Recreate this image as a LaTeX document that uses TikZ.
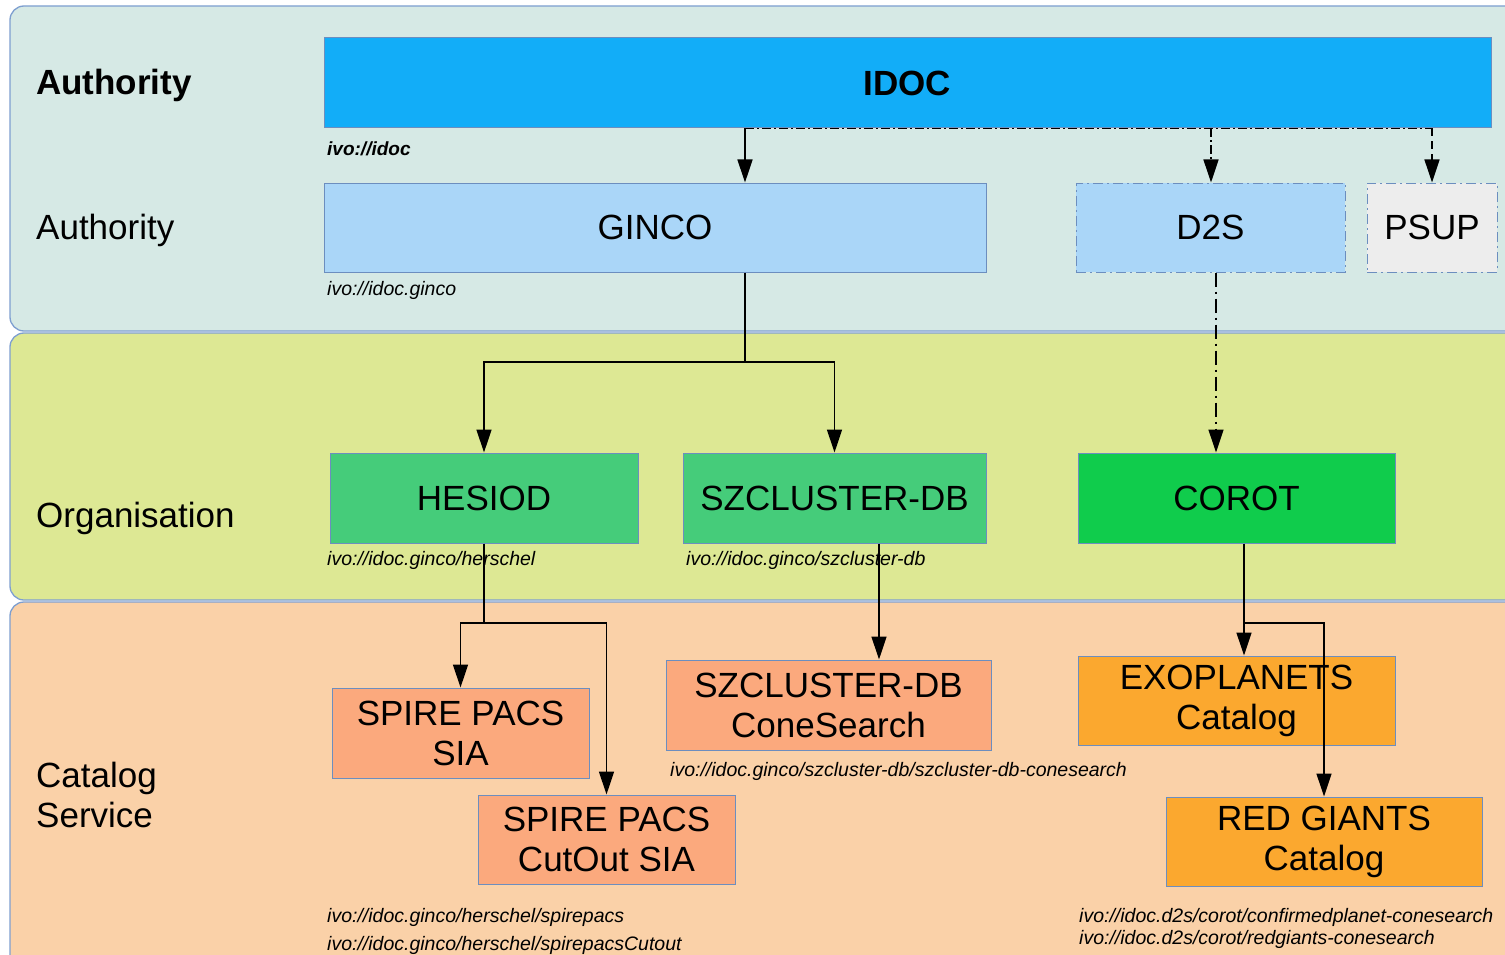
\documentclass[tikz,border=0pt]{standalone}
\usepackage{fontspec}
\setmainfont{Liberation Sans}
\usetikzlibrary{arrows.meta}
\definecolor{bandA}{HTML}{D6E9E5}
\definecolor{bandB}{HTML}{DDE894}
\definecolor{bandC}{HTML}{FAD1A8}
\definecolor{bandline}{HTML}{7E9FD0}
\definecolor{boxline}{HTML}{6C8EBF}
\definecolor{idocc}{HTML}{12ADF8}
\definecolor{ltblue}{HTML}{AAD6F8}
\definecolor{ltgray}{HTML}{EDEDED}
\definecolor{midgreen}{HTML}{45CC7A}
\definecolor{brgreen}{HTML}{10CC4C}
\definecolor{salmon}{HTML}{FBA97D}
\definecolor{orangec}{HTML}{FBA82F}
\begin{document}
\begin{tikzpicture}[x=1pt,y=-1pt,
  band/.style={draw=bandline, line width=1.3pt, rounded corners=14pt},
  box/.style={draw=boxline, line width=1pt, inner sep=0pt, align=center,
    font=\fontsize{35}{40}\selectfont, minimum height=89pt},
  dashbox/.style={box, dash pattern=on 10pt off 4pt on 2pt off 4pt},
  lbl/.style={anchor=west, inner sep=0pt, font=\fontsize{35}{40}\selectfont, align=left},
  ivo/.style={anchor=west, inner sep=0pt, font=\fontsize{19.5}{22}\selectfont\itshape},
  conn/.style={line width=1.4pt, black},
  arr/.style={conn, -{Triangle[width=15pt,length=23pt]}},
  dashdot/.style={dash pattern=on 9pt off 3pt on 2pt off 3pt},
  longdd/.style={dash pattern=on 14pt off 5pt on 2pt off 5pt},
  dsh/.style={dash pattern=on 8pt off 5pt}
]
\clip (0,0) rectangle (1505,955);
\useasboundingbox (0,0) rectangle (1505,955);
\fill[white] (0,0) rectangle (1505,955);
% bands
\draw[band, fill=bandA] (10,6) rectangle (1540,331);
\draw[band, fill=bandB] (10,333) rectangle (1540,600);
\draw[band, fill=bandC] (10,602) rectangle (1540,990);
% left labels
\node[lbl, font=\fontsize{35}{40}\selectfont\bfseries] (l1) at (36,85) {Authority};
\node[lbl] (l2) at (36,230) {Authority};
\node[lbl] (l3) at (36,518) {Organisation};
\node[lbl] (l4) at (36,795) {Catalog\\Service};
% boxes
\node[box, fill=idocc, minimum width=1167pt, minimum height=90pt, font=\fontsize{35}{40}\selectfont\bfseries] (idoc) at (907.5,83) {IDOC};
\node[box, fill=ltblue, minimum width=662pt] (ginco) at (655,227.5) {GINCO};
\node[dashbox, fill=ltblue, minimum width=269pt] (d2s) at (1210.5,227.5) {D2S};
\node[dashbox, fill=ltgray, minimum width=130pt] (psup) at (1432,227.5) {PSUP};
\node[box, fill=midgreen, minimum width=308pt, minimum height=90pt] (hesiod) at (484,498) {HESIOD};
\node[box, fill=midgreen, minimum width=303pt, minimum height=90pt] (szcl) at (834.5,498) {SZCLUSTER-DB};
\node[box, fill=brgreen, minimum width=317pt, minimum height=90pt] (corot) at (1236.5,498) {COROT};
\node[box, fill=salmon, minimum width=257pt, minimum height=90pt] (sia) at (460.5,733) {SPIRE PACS\\SIA};
\node[box, fill=salmon, minimum width=257pt] (cutout) at (606.5,839.5) {SPIRE PACS\\CutOut SIA};
\node[box, fill=salmon, minimum width=325pt, minimum height=90pt] (cone) at (828.5,705) {SZCLUSTER-DB\\ConeSearch};
\node[box, fill=orangec, minimum width=317pt] (exo) at (1236.5,700.5) {EXOPLANETS\\Catalog};
\node[box, fill=orangec, minimum width=316pt] (red) at (1324,841.5) {RED GIANTS\\Catalog};
% ivo labels
\node[ivo, font=\fontsize{19}{22}\selectfont\bfseries\itshape] (v1) at (327,149) {ivo://idoc};
\node[ivo] (v2) at (327,290) {ivo://idoc.ginco};
\node[ivo] (v3) at (327,560) {ivo://idoc.ginco/herschel};
\node[ivo] (v4) at (686,560) {ivo://idoc.ginco/szcluster-db};
\node[ivo] (v5) at (670,771) {ivo://idoc.ginco/szcluster-db/szcluster-db-conesearch};
\node[ivo] (v6) at (327,917) {ivo://idoc.ginco/herschel/spirepacs};
\node[ivo] (v7) at (327,945) {ivo://idoc.ginco/herschel/spirepacsCutout};
\node[ivo] (v8) at (1079,917) {ivo://idoc.d2s/corot/confirmedplanet-conesearch};
\node[ivo] (v9) at (1079,939) {ivo://idoc.d2s/corot/redgiants-conesearch};
% connectors
\draw[arr] (idoc.south -| 745,0) -- (ginco.north -| 745,0);
\draw[conn, dashdot] (idoc.south -| 745,0) -- (idoc.south -| psup.north);
\draw[arr, dashdot] (idoc.south -| 1211,0) -- (d2s.north -| 1211,0);
\draw[arr, dsh] (idoc.south -| psup.north) -- (psup.north);
\coordinate (gj) at (745,362);
\draw[conn] (ginco.south -| gj) -- (gj);
\draw[arr] (gj) -| (hesiod.north);
\draw[arr] (gj) -| (szcl.north);
\draw[arr, longdd] (d2s.south -| 1216,0) -- (corot.north -| 1216,0);
\coordinate (hj) at (484,623);
\draw[conn] (hesiod.south) -- (hj);
\draw[arr] (hj) -| (sia.north);
\draw[arr] (hj) -| (cutout.north);
\draw[arr] (szcl.south -| 879,0) -- (cone.north -| 879,0);
\coordinate (cj) at (1244,623);
\draw[conn] (corot.south -| cj) -- (cj);
\draw[arr] (cj) -- (exo.north -| cj);
\draw[arr] (cj) -| (red.north);
\end{tikzpicture}
\end{document}
